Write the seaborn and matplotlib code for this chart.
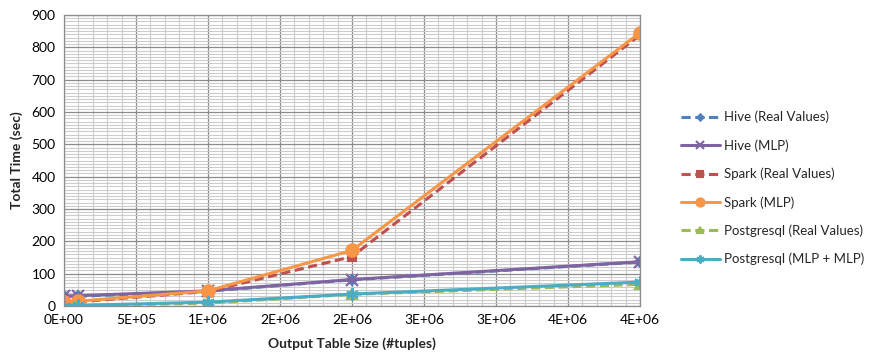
import pandas as pd
import matplotlib
matplotlib.use("Agg")
from matplotlib import pyplot as plt
from matplotlib.ticker import MultipleLocator
import seaborn as sns

# output table size (#tuples)
sizes = [0, 100000, 1000000, 2000000, 4000000]

hive_real = [30, 30, 46, 81, 136]
hive_mlp = [31, 32, 47, 82, 137]
spark_real = [8, 13, 45, 153, 838]
spark_mlp = [11, 15, 47, 172, 845]
pg_real = [0, 1, 9, 36, 67]
pg_mlp = [1, 2, 12, 37, 74]

series_names = [
    "Hive (Real Values)",
    "Hive (MLP)",
    "Spark (Real Values)",
    "Spark (MLP)",
    "Postgresql (Real Values)",
    "Postgresql (MLP + MLP)",
]
series_values = [hive_real, hive_mlp, spark_real, spark_mlp, pg_real, pg_mlp]

x_ticks = [0, 500000, 1000000, 1500000, 2000000, 2500000, 3000000, 3500000, 4000000]
x_ticklabels = ["0E+00", "5E+05", "1E+06", "2E+06", "2E+06", "3E+06", "3E+06", "4E+06", "4E+06"]

rows = []
for name, vals in zip(series_names, series_values):
    for s, v in zip(sizes, vals):
        rows.append({"size": s, "time": v, "series": name})
df = pd.DataFrame(rows)

styles = {
    "Hive (Real Values)": dict(color="#4F81BD", ls=(0, (3, 1.5)), marker="D", ms=5),
    "Hive (MLP)": dict(color="#8064A2", ls="-", marker="x", ms=8),
    "Spark (Real Values)": dict(color="#C0504D", ls=(0, (3, 1.5)), marker="s", ms=6),
    "Spark (MLP)": dict(color="#F79646", ls="-", marker="o", ms=9),
    "Postgresql (Real Values)": dict(color="#9BBB59", ls=(0, (3, 1.5)), marker="^", ms=7),
    "Postgresql (MLP + MLP)": dict(color="#4BACC6", ls="-", marker=(6, 2, 0), ms=9),
}

sns.set_style("white")
plt.rcParams["font.family"] = ["Lato", "DejaVu Sans"]

fig = plt.figure(figsize=(8.7, 3.56), dpi=100)
ax = fig.add_axes([0.0736, 0.1404, 0.662, 0.8175])

for name in series_names:
    st = styles[name]
    sns.lineplot(
        data=df[df["series"] == name],
        x="size",
        y="time",
        ax=ax,
        color=st["color"],
        linestyle=st["ls"],
        marker=st["marker"],
        markersize=st["ms"],
        markeredgecolor=st["color"],
        markeredgewidth=1.5,
        linewidth=2.2,
        label=name,
    )

ax.set_xlim(0, 4000000)
ax.set_ylim(0, 900)
ax.set_xticks(x_ticks)
ax.set_xticklabels(x_ticklabels)
ax.xaxis.set_minor_locator(MultipleLocator(100000))
ax.yaxis.set_major_locator(MultipleLocator(100))
ax.yaxis.set_minor_locator(MultipleLocator(10))
ax.grid(which="major", color="#8c8c8c", linewidth=0.9)
ax.grid(which="minor", color="#cccccc", linewidth=0.8)
ax.set_axisbelow(True)
ax.tick_params(axis="both", which="both", length=0, labelsize=10, colors="#000000", pad=6)
for sp in ax.spines.values():
    sp.set_color("#8c8c8c")
    sp.set_linewidth(0.9)

ax.set_xlabel("Output Table Size (#tuples)", fontsize=10, fontweight="bold", labelpad=8)
ax.set_ylabel("Total Time (sec)", fontsize=10, fontweight="bold", labelpad=6)

leg = ax.legend(
    loc="center left",
    bbox_to_anchor=(1.05, 0.405),
    frameon=False,
    fontsize=9.5,
    handlelength=3.0,
    labelspacing=1.2,
    handletextpad=0.3,
    markerscale=0.65,
)

fig.savefig("out.png", dpi=100)
